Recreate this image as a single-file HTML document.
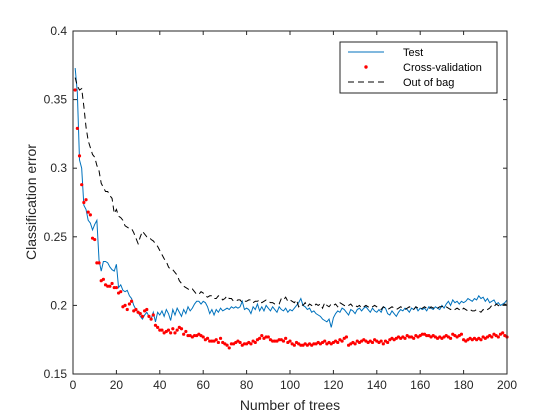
<!DOCTYPE html>
<html><head><meta charset="utf-8"><style>body{margin:0;background:#fff}svg{display:block;font-family:"Liberation Sans",sans-serif}</style></head>
<body>
<svg id="chart" width="560" height="420" viewBox="0 0 560 420">
<rect x="0" y="0" width="560" height="420" fill="#fff"/>
<rect x="73" y="31" width="434" height="343" fill="#fff"/>
<g id="grid"></g>
<polyline id="test" fill="none" stroke="#0072bd" stroke-width="1"/>
<polyline id="oob" fill="none" stroke="#000" stroke-width="1" stroke-dasharray="6,4"/>
<g id="cv"></g>
<rect x="73" y="31" width="434" height="343" fill="none" stroke="#262626" stroke-width="1"/>
<g id="ticks"></g>
<text x="290" y="410" font-size="14" text-anchor="middle" fill="#262626">Number of trees</text>
<text transform="translate(36,202) rotate(-90)" font-size="14" text-anchor="middle" fill="#262626">Classification error</text>
<g>
<rect x="340" y="42" width="157" height="51" fill="#fff" stroke="#262626" stroke-width="1"/>
<line x1="348" y1="52" x2="384" y2="52" stroke="#0072bd"/>
<text x="403" y="56" font-size="11" fill="#000">Test</text>
<circle cx="366" cy="67" r="1.7" fill="#ff0000"/>
<text x="403" y="71" font-size="11" fill="#000">Cross-validation</text>
<line x1="348" y1="82" x2="384" y2="82" stroke="#000" stroke-dasharray="6,4"/>
<text x="403" y="86" font-size="11" fill="#000">Out of bag</text>
</g>
</svg>
<script>
const xTicks=[0,20,40,60,80,100,120,140,160,180,200];
const yTicks=[0.15,0.2,0.25,0.3,0.35,0.4];
const yTickLabels=["0.15","0.2","0.25","0.3","0.35","0.4"];
const testErr=[.373,.355,.306,.300,.273,.270,.262,.260,.255,.259,
.262,.233,.225,.232,.232,.231,.228,.226,.225,.230,
.213,.215,.211,.210,.211,.207,.205,.200,.197,.195,
.192,.190,.193,.195,.192,.190,.195,.188,.195,.193,
.196,.192,.197,.194,.189,.197,.193,.198,.195,.192,
.197,.194,.199,.196,.198,.201,.203,.203,.201,.203,
.202,.199,.194,.197,.193,.197,.195,.198,.196,.197,
.198,.197,.199,.198,.199,.198,.199,.203,.197,.198,
.197,.194,.199,.197,.201,.196,.199,.196,.200,.198,
.196,.199,.197,.195,.199,.197,.196,.198,.195,.197,
.196,.198,.200,.202,.205,.200,.199,.197,.198,.195,
.196,.194,.193,.192,.190,.189,.188,.190,.184,.191,
.194,.196,.195,.198,.197,.195,.193,.197,.196,.194,
.197,.198,.196,.198,.199,.197,.195,.198,.196,.195,
.197,.195,.199,.198,.194,.193,.196,.194,.192,.195,
.197,.196,.198,.197,.195,.198,.197,.199,.196,.198,
.197,.198,.196,.199,.198,.197,.199,.198,.197,.200,
.198,.201,.203,.200,.204,.202,.203,.201,.203,.202,
.203,.205,.204,.203,.205,.204,.207,.205,.206,.203,
.205,.202,.203,.204,.201,.202,.200,.201,.202,.204];
const cvErr=[.357,.329,.309,.288,.275,.277,.268,.266,.249,.248,
.231,.231,.218,.219,.215,.214,.214,.216,.213,.213,
.209,.210,.199,.200,.197,.201,.203,.196,.197,.195,
.194,.192,.196,.197,.192,.190,.193,.1855,.184,.182,
.182,.180,.181,.182,.180,.183,.180,.182,.184,.183,
.179,.181,.178,.178,.177,.178,.178,.179,.178,.177,
.175,.176,.174,.174,.174,.175,.173,.176,.173,.172,
.171,.169,.172,.172,.173,.174,.173,.171,.172,.172,
.173,.172,.174,.173,.175,.176,.178,.176,.177,.177,
.175,.174,.174,.174,.175,.175,.174,.176,.173,.174,
.172,.171,.173,.172,.171,.171,.172,.171,.172,.171,
.172,.172,.173,.172,.173,.174,.172,.173,.172,.173,
.174,.173,.175,.174,.176,.177,.171,.172,.173,.172,
.174,.173,.174,.175,.174,.173,.174,.173,.175,.174,
.173,.174,.172,.174,.173,.175,.176,.175,.176,.177,
.176,.177,.176,.178,.177,.177,.176,.178,.177,.178,
.179,.179,.178,.178,.177,.178,.177,.176,.177,.176,
.177,.178,.177,.176,.179,.178,.177,.178,.179,.175,
.174,.175,.176,.175,.176,.175,.176,.175,.177,.176,
.177,.178,.177,.179,.178,.177,.179,.180,.178,.177];
const oobErr=[.366,.360,.357,.358,.345,.330,.320,.315,.310,.308,
.302,.298,.289,.286,.283,.283,.280,.278,.267,.270,
.265,.264,.262,.258,.257,.256,.256,.253,.249,.245,
.250,.254,.252,.250,.250,.248,.247,.245,.243,.240,
.237,.234,.232,.228,.226,.226,.224,.222,.218,.216,
.214,.213,.212,.211,.212,.210,.208,.208,.210,.209,
.207,.206,.207,.207,.205,.205,.207,.206,.204,.205,
.207,.205,.205,.203,.203,.204,.204,.202,.203,.203,
.204,.204,.202,.203,.203,.204,.202,.203,.204,.203,
.202,.202,.201,.201,.201,.205,.204,.206,.203,.204,
.203,.202,.204,.199,.201,.200,.202,.199,.201,.200,
.199,.201,.200,.201,.198,.202,.200,.199,.201,.200,
.201,.199,.202,.201,.200,.199,.200,.201,.199,.200,
.199,.200,.198,.199,.200,.199,.198,.199,.200,.199,
.198,.197,.199,.198,.197,.198,.199,.198,.197,.198,
.199,.198,.197,.198,.199,.198,.197,.199,.198,.197,
.198,.199,.198,.197,.199,.198,.199,.198,.199,.199,
.200,.199,.198,.197,.198,.197,.198,.197,.196,.198,
.197,.196,.197,.196,.196,.197,.196,.195,.197,.196,
.197,.198,.200,.199,.201,.200,.199,.200,.201,.200];
const NS='http://www.w3.org/2000/svg';
const L=73,R=507,T=31,B=374;
function xs(v){return L+(v-0)/(200-0)*(R-L);}
function ys(v){return B-(v-0.15)/(0.4-0.15)*(B-T);}
const tk=document.getElementById('ticks');
xTicks.forEach(v=>{
  const x=xs(v);
  const l1=document.createElementNS(NS,'line');
  
  
  l1.setAttribute('x1',x);l1.setAttribute('x2',x);l1.setAttribute('y1',B);l1.setAttribute('y2',B-4);l1.setAttribute('stroke','#262626');tk.appendChild(l1);
  const l2=document.createElementNS(NS,'line');
  
  
  l2.setAttribute('x1',x);l2.setAttribute('x2',x);l2.setAttribute('y1',T);l2.setAttribute('y2',T+4);l2.setAttribute('stroke','#262626');tk.appendChild(l2);
  const t=document.createElementNS(NS,'text');
  
  
  t.setAttribute('x',x);t.setAttribute('y',B+15);t.setAttribute('font-size','12');t.setAttribute('text-anchor','middle');t.setAttribute('fill','#262626');t.textContent=v;tk.appendChild(t);
});
yTicks.forEach((v,i)=>{
  const y=ys(v);
  const l1=document.createElementNS(NS,'line');
  
  
  l1.setAttribute('x1',L);l1.setAttribute('x2',L+4);l1.setAttribute('y1',y);l1.setAttribute('y2',y);l1.setAttribute('stroke','#262626');tk.appendChild(l1);
  const l2=document.createElementNS(NS,'line');
  
  
  l2.setAttribute('x1',R);l2.setAttribute('x2',R-4);l2.setAttribute('y1',y);l2.setAttribute('y2',y);l2.setAttribute('stroke','#262626');tk.appendChild(l2);
  const t=document.createElementNS(NS,'text');
  
  
  t.setAttribute('x',L-6);t.setAttribute('y',y+4);t.setAttribute('font-size','12');t.setAttribute('text-anchor','end');t.setAttribute('fill','#262626');t.textContent=yTickLabels[i];tk.appendChild(t);
});
document.getElementById('test').setAttribute('points',testErr.map((v,i)=>xs(i+1)+','+ys(v)).join(' '));
document.getElementById('oob').setAttribute('points',oobErr.map((v,i)=>xs(i+1)+','+ys(v)).join(' '));
const cv=document.getElementById('cv');
cvErr.forEach((v,i)=>{
  const c=document.createElementNS(NS,'circle');
  
  
  c.setAttribute('cx',xs(i+1));c.setAttribute('cy',ys(v));c.setAttribute('r','1.6');c.setAttribute('fill','#ff0000');cv.appendChild(c);
});
</script>
</body></html>
